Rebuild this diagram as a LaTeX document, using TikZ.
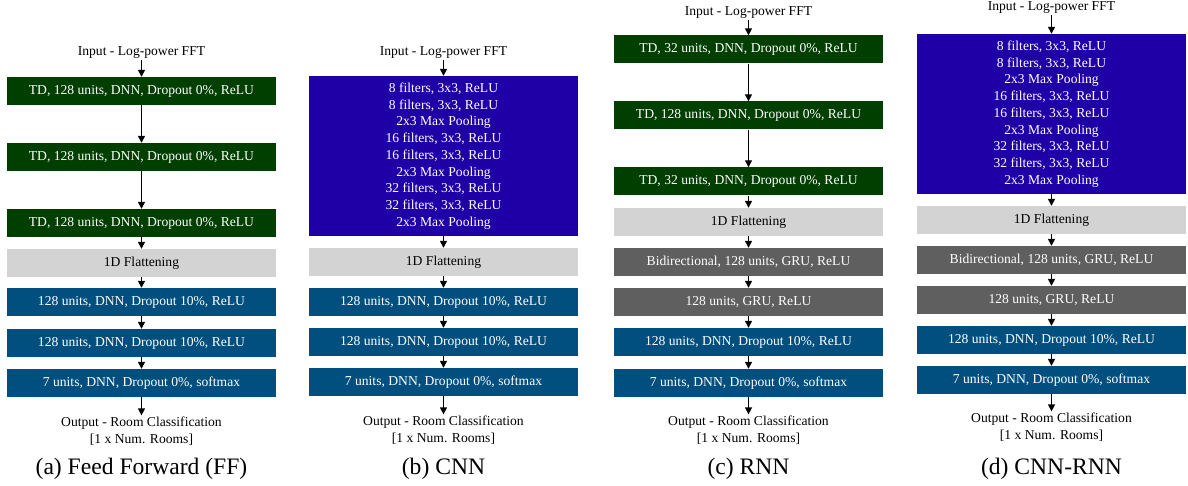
\documentclass[tikz,border=0pt]{standalone}
\usepackage{fontspec}
\setmainfont{Liberation Serif}
\newfontfamily\timesface{Liberation Serif}
\usepackage{xcolor}
\usepackage{tikz}
\usetikzlibrary{arrows.meta}

\definecolor{tdgreen}{HTML}{003F00}
\definecolor{convblue}{HTML}{1F00A6}
\definecolor{denseblue}{HTML}{004F7F}
\definecolor{grugray}{HTML}{5F5F5F}
\definecolor{flatgray}{HTML}{D3D3D3}

\tikzset{
  layerbox/.style={rectangle, minimum width=269pt, minimum height=28pt, inner sep=0pt,
    text=white, font=\timesface\fontsize{13.6}{16.7}\selectfont},
  tdbox/.style={layerbox, fill=tdgreen},
  convbox/.style={layerbox, fill=convblue, minimum height=160pt, align=center},
  flatbox/.style={layerbox, fill=flatgray, text=black},
  grubox/.style={layerbox, fill=grugray},
  densebox/.style={layerbox, fill=denseblue},
  iotext/.style={inner sep=1pt, align=center, font=\timesface\fontsize{13.6}{17.5}\selectfont},
  captext/.style={inner sep=0pt, font=\timesface\fontsize{23.6}{28}\selectfont},
  flow/.style={line width=1.4pt, -{Triangle[length=7pt,width=7pt]}}
}

\newcommand{\convstack}{8 filters, 3x3, ReLU\\8 filters, 3x3, ReLU\\2x3 Max Pooling\\
  16 filters, 3x3, ReLU\\16 filters, 3x3, ReLU\\2x3 Max Pooling\\
  32 filters, 3x3, ReLU\\32 filters, 3x3, ReLU\\2x3 Max Pooling}
\newcommand{\outtext}{Output - Room Classification\\{}[1 x Num. Rooms]}

\begin{document}
\begin{tikzpicture}[x=1pt,y=-1pt]
  \useasboundingbox (0,0) rectangle (1188,486);

  % (a) feed forward
  \node[iotext] (ffin) at (141.5,53) {Input - Log-power FFT};
  \node[tdbox] (fftd1) at (141.5,91) {TD, 128 units, DNN, Dropout 0\%, ReLU};
  \node[tdbox] (fftd2) at (141.5,157) {TD, 128 units, DNN, Dropout 0\%, ReLU};
  \node[tdbox] (fftd3) at (141.5,223) {TD, 128 units, DNN, Dropout 0\%, ReLU};
  \node[flatbox] (ffflat) at (141.5,263) {1D Flattening};
  \node[densebox] (ffd1) at (141.5,302) {128 units, DNN, Dropout 10\%, ReLU};
  \node[densebox] (ffd2) at (141.5,343) {128 units, DNN, Dropout 10\%, ReLU};
  \node[densebox] (ffd3) at (141.5,383) {7 units, DNN, Dropout 0\%, softmax};
  \node[iotext] (ffout) at (141.5,431) {\outtext};
  \node[captext] (ffcap) at (141.5,469) {(a) Feed Forward (FF)};
  \foreach \a/\b in {ffin/fftd1,fftd1/fftd2,fftd2/fftd3,fftd3/ffflat,ffflat/ffd1,ffd1/ffd2,ffd2/ffd3,ffd3/ffout}
    \draw[flow] (\a) -- (\b);

  % (b) cnn
  \node[iotext] (cnnin) at (443.5,53) {Input - Log-power FFT};
  \node[convbox] (cnnconv) at (443.5,156) {\convstack};
  \node[flatbox] (cnnflat) at (443.5,262) {1D Flattening};
  \node[densebox] (cnnd1) at (443.5,302) {128 units, DNN, Dropout 10\%, ReLU};
  \node[densebox] (cnnd2) at (443.5,342) {128 units, DNN, Dropout 10\%, ReLU};
  \node[densebox] (cnnd3) at (443.5,382) {7 units, DNN, Dropout 0\%, softmax};
  \node[iotext] (cnnout) at (443.5,430) {\outtext};
  \node[captext] (cnncap) at (443.5,469) {(b) CNN};
  \foreach \a/\b in {cnnin/cnnconv,cnnconv/cnnflat,cnnflat/cnnd1,cnnd1/cnnd2,cnnd2/cnnd3,cnnd3/cnnout}
    \draw[flow] (\a) -- (\b);

  % (c) rnn
  \node[iotext] (rnnin) at (748.5,13) {Input - Log-power FFT};
  \node[tdbox] (rnntd1) at (748.5,49.5) {TD, 32 units, DNN, Dropout 0\%, ReLU};
  \node[tdbox] (rnntd2) at (748.5,115.5) {TD, 128 units, DNN, Dropout 0\%, ReLU};
  \node[tdbox] (rnntd3) at (748.5,181.5) {TD, 32 units, DNN, Dropout 0\%, ReLU};
  \node[flatbox] (rnnflat) at (748.5,222) {1D Flattening};
  \node[grubox] (rnng1) at (748.5,262) {Bidirectional, 128 units, GRU, ReLU};
  \node[grubox] (rnng2) at (748.5,302) {128 units, GRU, ReLU};
  \node[densebox] (rnnd1) at (748.5,342) {128 units, DNN, Dropout 10\%, ReLU};
  \node[densebox] (rnnd2) at (748.5,383) {7 units, DNN, Dropout 0\%, softmax};
  \node[iotext] (rnnout) at (748.5,430) {\outtext};
  \node[captext] (rnncap) at (748.5,469) {(c) RNN};
  \foreach \a/\b in {rnnin/rnntd1,rnntd1/rnntd2,rnntd2/rnntd3,rnntd3/rnnflat,rnnflat/rnng1,rnng1/rnng2,rnng2/rnnd1,rnnd1/rnnd2,rnnd2/rnnout}
    \draw[flow] (\a) -- (\b);

  % (d) cnn-rnn
  \node[iotext] (crin) at (1051.5,8) {Input - Log-power FFT};
  \node[convbox] (crconv) at (1051.5,114) {\convstack};
  \node[flatbox] (crflat) at (1051.5,220) {1D Flattening};
  \node[grubox] (crg1) at (1051.5,260) {Bidirectional, 128 units, GRU, ReLU};
  \node[grubox] (crg2) at (1051.5,300) {128 units, GRU, ReLU};
  \node[densebox] (crd1) at (1051.5,340) {128 units, DNN, Dropout 10\%, ReLU};
  \node[densebox] (crd2) at (1051.5,380) {7 units, DNN, Dropout 0\%, softmax};
  \node[iotext] (crout) at (1051.5,427) {\outtext};
  \node[captext] (crcap) at (1051.5,469) {(d) CNN-RNN};
  \foreach \a/\b in {crin/crconv,crconv/crflat,crflat/crg1,crg1/crg2,crg2/crd1,crd1/crd2,crd2/crout}
    \draw[flow] (\a) -- (\b);
\end{tikzpicture}
\end{document}
